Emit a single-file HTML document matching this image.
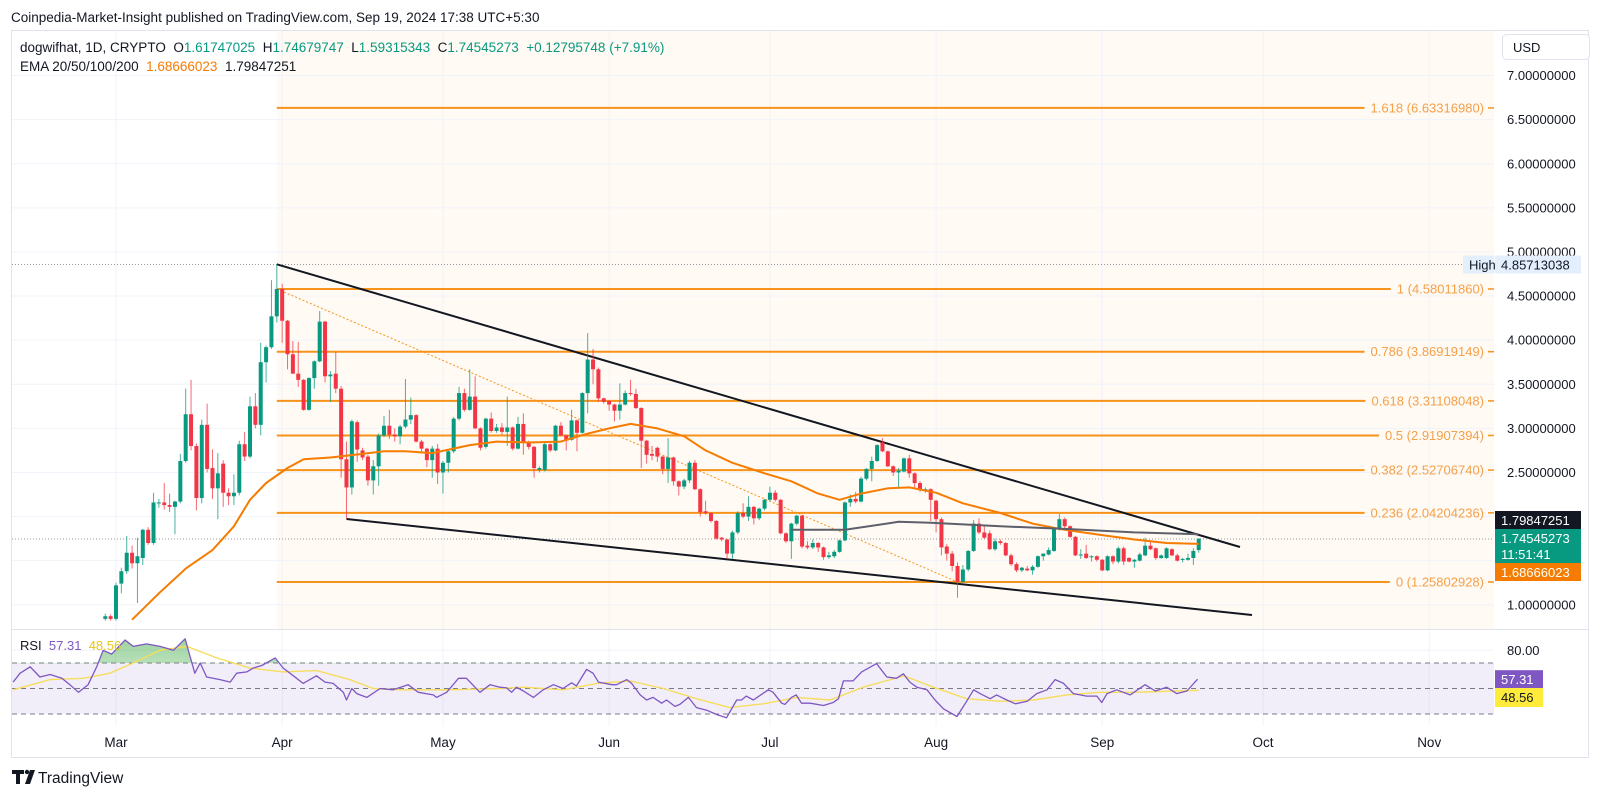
<!DOCTYPE html>
<html><head><meta charset="utf-8">
<style>
html,body{margin:0;padding:0;background:#fff;}
body{width:1600px;height:796px;overflow:hidden;font-family:"Liberation Sans",sans-serif;}
svg text{font-family:"Liberation Sans",sans-serif;}
.pre{white-space:pre;}
</style></head>
<body>
<svg id="chart" width="1600" height="796" viewBox="0 0 1600 796" xmlns="http://www.w3.org/2000/svg">
  <defs>
    <clipPath id="mainClip"><rect x="12" y="31" width="1482" height="598"/></clipPath>
    <clipPath id="rsiClip"><rect x="12" y="630" width="1482" height="96"/></clipPath>
    <clipPath id="obClip"><rect x="12" y="630" width="1482" height="33.3"/></clipPath>
    <linearGradient id="obGrad" x1="0" y1="0" x2="0" y2="1">
      <stop offset="0" stop-color="#4caf50" stop-opacity="0.55"/>
      <stop offset="1" stop-color="#4caf50" stop-opacity="0.05"/>
    </linearGradient>
  </defs>
  <text x="11" y="22" font-size="13.5" fill="#131722">Coinpedia-Market-Insight published on TradingView.com, Sep 19, 2024 17:38 UTC+5:30</text>
  <rect x="11.5" y="30.5" width="1577" height="727" fill="#fff" stroke="#e0e3eb"/>
  <g id="bg"></g>
  <g id="grid"></g>
  <g id="fib" clip-path="url(#mainClip)"></g>
  <g id="lines" clip-path="url(#mainClip)"></g>
  <g id="candles" clip-path="url(#mainClip)"></g>
  <g id="ema" clip-path="url(#mainClip)"></g>
  <g id="rsi"></g>
  <g id="axis"></g>
  <g id="legend">
    <text class="pre" x="20" y="52" font-size="13.5" fill="#131722" xml:space="preserve">dogwifhat, 1D, CRYPTO  <tspan>O</tspan><tspan fill="#089981">1.61747025</tspan>  <tspan>H</tspan><tspan fill="#089981">1.74679747</tspan>  <tspan>L</tspan><tspan fill="#089981">1.59315343</tspan>  <tspan>C</tspan><tspan fill="#089981">1.74545273</tspan>  <tspan fill="#089981">+0.12795748 (+7.91%)</tspan></text>
    <text class="pre" x="20" y="71" font-size="13.5" fill="#131722" xml:space="preserve">EMA 20/50/100/200  <tspan fill="#f57c00">1.68666023</tspan>  <tspan>1.79847251</tspan></text>
    <text class="pre" x="20" y="650" font-size="13" fill="#131722" xml:space="preserve">RSI  <tspan fill="#7e57c2">57.31</tspan>  <tspan fill="#e6c619">48.56</tspan></text>
  </g>
  <g>
    <rect x="1502.5" y="34.5" width="87" height="25" rx="4" fill="#fff" stroke="#e0e3eb"/>
    <text x="1513" y="52" font-size="13" fill="#131722">USD</text>
  </g>
  <g>
    <path d="M12 770h12v4h-4v10h-4v-10h-4z" fill="#131722"/>
    <circle cx="27" cy="772" r="2.2" fill="#131722"/>
    <path d="M30 770h5l-5 14h-5z" fill="#131722"/>
    <text x="38" y="783" font-size="15.5" fill="#131722">TradingView</text>
  </g>
</svg>
<script>
// ---- data ----
const startDay = -2; // days from Mar 1 of first candle
const opens = [
.84,.87,.84,1.24,1.38,1.59,1.47,1.53,1.85,1.70,
2.15,2.16,2.13,2.11,2.17,2.63,3.16,2.80,2.21,3.04,
2.55,2.32,2.60,2.27,2.23,2.27,2.82,2.68,3.25,3.04,
3.75,3.92,4.27,4.58,4.22,3.84,3.62,3.55,3.21,3.57,
3.76,4.21,3.59,3.62,3.45,2.65,2.33,3.07,2.75,2.68,
2.41,2.57,2.92,3.03,2.93,2.91,3.02,3.10,3.15,2.85,
2.77,2.64,2.77,2.50,2.61,2.74,3.11,3.40,3.21,3.36,
3.00,2.79,3.11,2.97,3.01,2.96,3.01,2.77,3.05,2.84,
2.79,2.53,2.53,2.82,2.75,3.03,2.92,2.87,3.09,2.95,
3.40,3.78,3.67,3.34,3.31,3.27,3.20,3.27,3.40,3.39,
3.23,2.86,2.71,2.78,2.68,2.54,2.67,2.40,2.34,2.41,
2.61,2.31,2.06,2.04,1.95,1.76,1.74,1.58,1.82,2.04,
2.00,2.11,1.98,2.09,2.19,2.27,2.19,1.81,1.72,1.92,
2.01,1.67,1.65,1.70,1.65,1.54,1.55,1.60,1.73,2.16,
2.20,2.17,2.43,2.54,2.63,2.84,2.74,2.57,2.50,2.51,
2.66,2.49,2.38,2.30,2.31,2.18,1.97,1.66,1.58,1.44,
1.26,1.40,1.61,1.92,1.82,1.81,1.63,1.72,1.70,1.56,
1.46,1.39,1.41,1.39,1.43,1.55,1.57,1.61,1.86,1.97,
1.89,1.77,1.56,1.58,1.54,1.55,1.51,1.39,1.55,1.49,
1.64,1.53,1.49,1.50,1.56,1.67,1.64,1.53,1.53,1.63,
1.56,1.51,1.51,1.53,1.62];
const highs = [
.90,.89,1.25,1.42,1.78,1.67,1.76,1.86,1.88,2.27,
2.20,2.38,2.26,2.18,2.71,3.45,3.55,2.83,3.10,3.28,
2.76,2.72,2.64,2.32,2.48,2.86,2.96,3.36,3.40,3.97,
3.94,4.68,4.86,4.64,4.23,3.99,3.98,3.56,3.58,3.77,
4.33,4.22,3.65,3.87,3.48,2.85,3.10,3.09,2.78,2.70,
2.64,2.94,3.14,3.21,3.00,3.04,3.56,3.35,3.16,2.87,
2.78,2.80,2.82,2.63,2.76,3.13,3.47,3.45,3.67,3.59,
3.01,3.12,3.18,3.05,3.06,3.36,3.02,3.13,3.17,2.86,
2.80,2.57,2.84,2.83,3.04,3.07,2.93,3.21,3.10,3.41,
4.08,3.90,3.69,3.35,3.32,3.28,3.51,3.43,3.55,3.45,
3.24,2.87,2.80,2.79,2.69,2.89,2.68,2.41,2.43,2.63,
2.64,2.32,2.18,2.05,1.96,1.77,1.75,1.84,2.06,2.15,
2.23,2.12,2.10,2.20,2.34,2.30,2.20,1.82,1.93,2.02,
2.02,1.72,1.74,1.71,1.66,1.60,1.62,1.74,2.17,2.25,
2.28,2.45,2.55,2.68,2.82,2.89,2.75,2.58,2.55,2.67,
2.70,2.50,2.40,2.33,2.32,2.19,1.99,1.69,1.61,1.48,
1.45,1.62,1.96,1.98,1.90,1.84,1.75,1.74,1.71,1.58,
1.48,1.43,1.44,1.45,1.56,1.58,1.65,1.87,2.03,1.99,
1.90,1.78,1.63,1.68,1.56,1.56,1.52,1.56,1.56,1.66,
1.66,1.54,1.52,1.59,1.76,1.71,1.65,1.57,1.65,1.64,
1.58,1.53,1.58,1.64,1.75];
const lows = [
.82,.82,.82,1.13,1.35,1.41,1.02,1.45,1.68,1.68,
2.10,2.08,2.05,1.80,2.15,2.61,2.75,2.07,2.15,2.50,
2.20,1.97,2.11,2.13,2.13,2.24,2.63,2.66,3.00,2.92,
3.52,3.90,4.20,3.97,3.67,3.62,3.47,3.20,3.20,3.45,
3.75,3.52,3.30,3.40,2.44,1.97,2.25,2.62,2.64,2.35,
2.25,2.35,2.90,2.88,2.85,2.82,3.00,3.05,2.84,2.72,
2.56,2.44,2.37,2.26,2.50,2.72,3.09,3.19,3.20,2.99,
2.75,2.77,2.95,2.95,2.93,2.80,2.75,2.76,2.70,2.76,
2.44,2.50,2.51,2.73,2.74,2.91,2.75,2.86,2.74,2.94,
3.17,3.50,3.30,3.28,3.20,3.08,3.10,3.26,3.37,3.22,
2.55,2.60,2.64,2.62,2.48,2.38,2.35,2.24,2.31,2.38,
2.30,2.00,2.02,1.93,1.74,1.72,1.52,1.52,1.80,1.98,
1.95,1.91,1.96,2.07,2.17,2.17,1.80,1.70,1.52,1.90,
1.64,1.63,1.63,1.60,1.51,1.52,1.53,1.59,1.72,2.11,
2.15,2.16,2.41,2.40,2.62,2.73,2.56,2.46,2.32,2.50,
2.44,2.33,2.28,2.27,1.95,1.82,1.56,1.50,1.38,1.08,
1.25,1.38,1.60,1.80,1.75,1.62,1.61,1.68,1.55,1.44,
1.37,1.37,1.38,1.34,1.42,1.50,1.56,1.60,1.84,1.86,
1.76,1.55,1.52,1.52,1.49,1.49,1.38,1.38,1.46,1.47,
1.45,1.48,1.42,1.49,1.55,1.62,1.51,1.52,1.52,1.55,
1.49,1.48,1.50,1.45,1.59];
const closes = [
.87,.84,1.22,1.38,1.59,1.47,1.55,1.85,1.70,2.16,
2.16,2.13,2.11,2.17,2.63,3.16,2.80,2.21,3.04,2.54,
2.32,2.49,2.27,2.23,2.27,2.82,2.68,3.25,3.04,3.75,
3.92,4.27,4.58,4.22,3.84,3.62,3.55,3.21,3.57,3.76,
4.21,3.59,3.61,3.45,2.65,2.33,3.08,2.76,2.67,2.41,
2.57,2.92,3.03,2.93,2.91,3.02,3.10,3.15,2.85,2.77,
2.64,2.77,2.50,2.61,2.74,3.11,3.40,3.21,3.36,3.00,
2.78,3.11,2.97,3.01,2.96,3.01,2.77,3.05,2.84,2.79,
2.55,2.55,2.82,2.75,3.03,2.92,2.87,3.09,2.95,3.40,
3.78,3.67,3.34,3.30,3.27,3.20,3.27,3.40,3.39,3.23,
2.86,2.70,2.69,2.68,2.54,2.67,2.40,2.34,2.41,2.61,
2.31,2.05,2.04,1.95,1.75,1.74,1.58,1.82,2.04,2.00,
2.11,1.98,2.09,2.19,2.27,2.19,1.81,1.72,1.92,2.01,
1.66,1.65,1.70,1.65,1.54,1.56,1.60,1.73,2.16,2.20,
2.17,2.43,2.54,2.63,2.81,2.74,2.57,2.50,2.52,2.66,
2.49,2.38,2.30,2.31,2.19,1.97,1.65,1.58,1.44,1.26,
1.40,1.61,1.92,1.82,1.76,1.63,1.72,1.70,1.56,1.46,
1.39,1.42,1.39,1.43,1.55,1.58,1.62,1.86,1.97,1.89,
1.77,1.56,1.57,1.53,1.55,1.51,1.39,1.55,1.49,1.64,
1.49,1.49,1.51,1.57,1.67,1.63,1.53,1.56,1.64,1.56,
1.50,1.52,1.53,1.61,1.75];
const emaDays = [3,8,13,18,22,25,28,32,35,40,46,50,54,59,66,71,77,83,88,92,96,101,106,110,115,121,126,131,135,139,144,148,153,158,165,171,177,184,190,196,202];
const emaVals = [0.83,1.13,1.41,1.62,1.89,2.19,2.38,2.55,2.65,2.67,2.71,2.74,2.74,2.72,2.81,2.85,2.84,2.85,2.94,3.00,3.05,3.00,2.91,2.75,2.61,2.49,2.40,2.26,2.19,2.26,2.32,2.33,2.27,2.15,2.04,1.92,1.85,1.79,1.74,1.70,1.69];
const ema2Days = [126,136,146,152,165,177,190,202];
const ema2Vals = [1.85,1.85,1.94,1.93,1.89,1.86,1.82,1.80];
const rsiDays = [-19.2,-17.9,-16,-14.2,-12.3,-10.1,-8.6,-7,-5.2,-3.6,-2.4,-0.8,1.7,3.2,5.7,8.2,10.7,12.9,14.7,15.7,16.9,19.4,21.3,22.5,24.4,25.6,27.2,29.7,31.2,33.1,34.9,37.4,39,40.5,42.4,43,44,44.9,46.8,49.3,51.7,54.5,56.4,59.2,59.8,61.7,63.9,65.4,67.9,69.8,71.6,
72.9,73.8,74.7,76,77.9,79.7,81.6,83.4,85,85.9,87.8,89,90,92.5,93.4,95.3,96.2,97.8,99,100.2,101.8,102.7,104.3,105.2,106.8,108.3,110.2,112.1,113.9,115.8,116.7,117.6,118.9,121.7,122.6,124.2,124.8,126,126.9,127.9,129.5,132,133.8,134.8,135.7,137.5,139.1,141.9,143.8,145.6,146.9,148.1,
149.4,151.3,152.8,154.4,156.9,158.7,160,161.2,163.1,164.3,166.2,167.8,170,171.8,173.7,175.2,176.8,178.6,181.1,183,183.9,184.9,186.7,189.2,192,193.9,196,197.9,199.8,201.8];
const rsiVals = [55,62,67,59,61,58,53,47,53,67,80,77,88,83,85,83,80,89,62,70,59,57,55,62,63,66,68,74,66,60,54,60,55,54,47,41,50,46,43,50,49,53,47,45,43,47,58,58,47,53,51,
50.5,47,51,48,43,49,53,50,54.5,52,65,62,55,53,53,57,54,45,41,43,38.5,41,36,37.5,43,35,33,29.5,27,41,41,44,41,49,47,38.5,37.5,43,45,38.5,38.5,36.7,39,42,56,56,63,69.5,59,58,61.5,55,
51,49,41,34,28,40,49,46,42,45,41,38,40,46,49,57,54,46,44,44,39,46,49,45,53,48,51,46,48,57.31];
const maDays = [-19.2,-12.3,-6.1,-1.1,3.2,8.2,13.2,18.8,25,31.2,37.4,43.6,48,53,62.3,71.6,76,83.4,89.7,95.9,102.1,108.3,114.5,120.8,127,133.2,139.4,147,152.5,158.7,165,171.2,177.4,183.6,189.8,202];
const maVals = [49,57,58,62,70,80,83,74,66,63,64,57,50,49,49,50,51,49,54,56,50,42,35,38,43,41,51,60,51,42,40,41,45,47,47,48.56];
const fibRatios = ["0","0.236","0.382","0.5","0.618","0.786","1","1.618"];
const fibPrices = [1.25802928,2.04204236,2.52706740,2.91907394,3.31108048,3.86919149,4.58011860,6.63316980];
const priceTicks = [1,2.5,3,3.5,4,4.5,5,5.5,6,6.5,7];
const gridPrices = [1,1.5,2,2.5,3,3.5,4,4.5,5,5.5,6,6.5,7];
const monthLabels = ["Mar","Apr","May","Jun","Jul","Aug","Sep","Oct","Nov"];
const monthDays = [0,31,61,92,122,153,184,214,245];
const highPrice = 4.85713038, lastClose = 1.74545273;

// ---- scales ----
const X = d => 116 + d * 5.36;
const Y = p => 582 - (p - 1.258) * 88.2;
const RY = v => 663 + (70 - v) * 1.275;
const NS = "http://www.w3.org/2000/svg";
function mk(tag, attrs, parent){ const e=document.createElementNS(NS,tag); for(const k in attrs) e.setAttribute(k,attrs[k]); parent.appendChild(e); return e; }
const G = id => document.getElementById(id);

const bgz = mk('rect',{x:X(30),y:31,width:1494-X(30),height:598,fill:'#fffaf3'},G('bg'));



gridPrices.forEach(p=>{
  const l=mk('line',{x1:12,x2:1494,y1:Y(p),y2:Y(p),stroke:'#f0f3fa','stroke-width':1},G('grid'));
  
  
});
[80].forEach(v=>{ mk('line',{x1:12,x2:1494,y1:RY(v),y2:RY(v),stroke:'#f0f3fa'},G('grid')); });
monthDays.forEach(d=>{
  const l=mk('line',{x1:X(d),x2:X(d),y1:31,y2:726,stroke:'#f0f3fa','stroke-width':1},G('grid'));
  
  
});
mk('line',{x1:12,x2:1588,y1:629.5,y2:629.5,stroke:'#e0e3eb'},G('grid'));

const fibX0 = X(30);
fibRatios.forEach((r,i)=>{
  const y=Y(fibPrices[i]);
  const t=mk('text',{x:1484,y:y+4.5,'font-size':13,fill:'#f5a04a','text-anchor':'end'},G('fib'));
  t.textContent = r+' ('+fibPrices[i].toFixed(8)+')';
  
  
  let w=140; try{ w=t.getComputedTextLength(); }catch(e){}
  const ln=mk('line',{x1:fibX0,x2:1484-w-6,y1:y,y2:y,stroke:'#f7931a','stroke-width':2},G('fib'));
  
  
  mk('line',{x1:1488,x2:1494,y1:y,y2:y,stroke:'#f7931a','stroke-width':1.5},G('fib'));
});
const diag = mk('line',{x1:fibX0,y1:Y(fibPrices[6]),x2:X(157),y2:Y(fibPrices[0]),stroke:'#f7931a','stroke-width':1,'stroke-dasharray':'2 2'},G('fib'));



const hl=mk('line',{x1:12,x2:1463,y1:Y(highPrice),y2:Y(highPrice),stroke:'#9598a1','stroke-width':1,'stroke-dasharray':'1 2'},G('lines'));


const cl=mk('line',{x1:12,x2:1494,y1:Y(lastClose),y2:Y(lastClose),stroke:'#9598a1','stroke-width':1,'stroke-dasharray':'1 2'},G('lines'));



const up=mk('line',{x1:X(30),y1:Y(4.86),x2:1240,y2:547,stroke:'#131722','stroke-width':2},G('lines'));


const lo=mk('line',{x1:X(43),y1:519,x2:1252,y2:615,stroke:'#131722','stroke-width':2},G('lines'));



opens.forEach((o,i)=>{
  const d=startDay+i, c=closes[i], x=X(d);
  const col = c>=o ? '#089981' : '#f23645';
  const g=mk('g',{},G('candles'));
  
  
  mk('line',{x1:x,x2:x,y1:Y(highs[i]),y2:Y(lows[i]),stroke:col,'stroke-width':1,'stroke-opacity':0.75},g);
  const yt=Y(Math.max(o,c)), yb=Y(Math.min(o,c));
  mk('rect',{x:x-2,y:yt,width:4,height:Math.max(1,yb-yt),fill:col},g);
});

function poly(days, vals, yf){ return days.map((d,i)=>X(d).toFixed(1)+','+yf(vals[i]).toFixed(1)).join(' '); }
const e1=mk('polyline',{points:poly(emaDays,emaVals,Y),fill:'none',stroke:'#f57c00','stroke-width':2,'stroke-linejoin':'round'},G('ema'));


const e2=mk('polyline',{points:poly(ema2Days,ema2Vals,Y),fill:'none',stroke:'#5d606b','stroke-width':2,'stroke-linejoin':'round'},G('ema'));



const R=G('rsi');
const band=mk('rect',{x:12,y:RY(70),width:1482,height:RY(30)-RY(70),fill:'#7e57c2','fill-opacity':0.1},R);


[70,50,30].forEach(v=>{
  const l=mk('line',{x1:12,x2:1494,y1:RY(v),y2:RY(v),stroke:'#787b86','stroke-width':1,'stroke-dasharray':'5 4'},R);
  
  
});
const rg=mk('g',{'clip-path':'url(#rsiClip)'},R);
const obPts = poly(rsiDays,rsiVals,RY)+' '+X(rsiDays[rsiDays.length-1]).toFixed(1)+','+RY(70)+' '+X(rsiDays[0]).toFixed(1)+','+RY(70);
const ob=mk('polygon',{points:obPts,fill:'url(#obGrad)','clip-path':'url(#obClip)'},rg);


const ma=mk('polyline',{points:poly(maDays,maVals,RY),fill:'none',stroke:'#f7dd5c','stroke-width':1.4},rg);


const rl=mk('polyline',{points:poly(rsiDays,rsiVals,RY),fill:'none',stroke:'#7e57c2','stroke-width':1.3,'stroke-linejoin':'round'},rg);



const A=G('axis');
priceTicks.forEach(p=>{
  const t=mk('text',{x:1507,y:Y(p)+4.5,'font-size':13,fill:'#131722'},A);
  t.textContent=p.toFixed(8);
  
  
});
const r80=mk('text',{x:1507,y:RY(80)+4.5,'font-size':13,fill:'#131722'},A);
r80.textContent='80.00';


monthLabels.forEach((m,i)=>{
  const t=mk('text',{x:X(monthDays[i]),y:747,'font-size':13.5,fill:'#131722','text-anchor':'middle'},A);
  t.textContent=m;
  
  
});
function tag(name,x,y,w,h,bg,fg,lines){
  const g=mk('g',{},A);
  
  
  mk('rect',{x:x,y:y,width:w,height:h,fill:bg},g);
  lines.forEach((s,i)=>{ const t=mk('text',{x:x+6,y:y+14+i*16,'font-size':13,fill:fg},g); t.textContent=s; });
}
tag('high-label',1463,Y(highPrice)-9,31,18,'#e3effd','#131722',['High']);
tag('high-price-tag',1495,Y(highPrice)-9,86,18,'#e3effd','#131722',[highPrice.toFixed(8)]);
tag('ema-dark-price-tag',1495,511,86,18,'#131722','#ffffff',['1.79847251']);
tag('last-price-tag',1495,529,86,34,'#089981','#ffffff',[lastClose.toFixed(8),'11:51:41']);
tag('ema-orange-price-tag',1495,563,86,18,'#f57c00','#ffffff',['1.68666023']);
tag('rsi-value-tag',1495,RY(rsiVals[rsiVals.length-1])-9,48,19,'#7e57c2','#ffffff',[rsiVals[rsiVals.length-1].toFixed(2)]);
tag('rsi-ma-value-tag',1495,688,48,19,'#ffeb3b','#131722',[maVals[maVals.length-1].toFixed(2)]);
</script>
</body></html>
